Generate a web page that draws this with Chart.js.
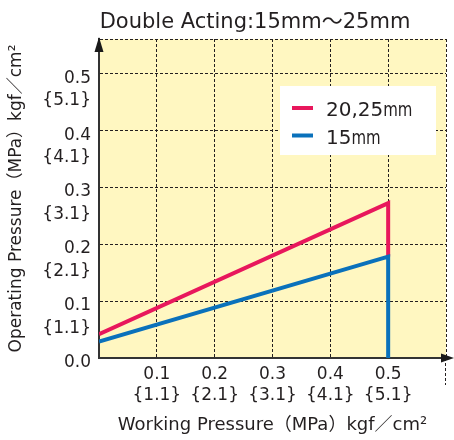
<!DOCTYPE html>
<html>
<head>
<meta charset="utf-8">
<script src="https://cdn.jsdelivr.net/npm/chart.js@4.4.1/dist/chart.umd.min.js"></script>
<style>
  html, body { margin: 0; padding: 0; background: #fff; }
  #wrap { width: 454px; height: 440px; }
</style>
</head>
<body>
<div id="wrap"><canvas id="pressure-chart" width="454" height="440"></canvas></div>
<script>
const chartTitle = 'Double Acting:15mm～25mm';
const xTitle = 'Working Pressure（MPa）kgf／cm²';
const yTitle = 'Operating Pressure（MPa）kgf／cm²';

// working pressure (MPa)
const workingPressure = [0, 0.5, 0.5];
// operating pressure (MPa) per bore size
const bore2025 = [0.042, 0.272, 0.178];
const bore15 = [0.029, 0.178, 0];
const seriesNames = ['20,25mm', '15mm'];
const seriesColors = ['#e8175c', '#0a71bb'];

const xTicks = [0, 0.1, 0.2, 0.3, 0.4, 0.5, 0.6];
const xTickMpa = ['', '0.1', '0.2', '0.3', '0.4', '0.5', ''];
const xTickKgf = ['', '{1.1}', '{2.1}', '{3.1}', '{4.1}', '{5.1}', ''];
const yTicks = [0, 0.1, 0.2, 0.3, 0.4, 0.5, 0.56];
const yTickMpa = ['0.0', '0.1', '0.2', '0.3', '0.4', '0.5', ''];
const yTickKgf = ['', '{1.1}', '{2.1}', '{3.1}', '{4.1}', '{5.1}', ''];

const fontFamily = '"DejaVu Sans", "Noto Sans CJK JP", sans-serif';
const inkColor = '#231f20';

function toPoints(ys) {
    return workingPressure.map((x, i) => ({ x: x, y: ys[i] }));
}

const backdrop = {
    id: 'backdrop',
    beforeDraw(chart) {
        const { ctx, chartArea: a } = chart;
        ctx.save();
        ctx.fillStyle = '#fff7c1';
        ctx.fillRect(a.left, a.top, a.right - a.left, a.bottom - a.top);
        ctx.restore();
    }
};

const decorations = {
    id: 'decorations',
    afterDraw(chart) {
        const { ctx, chartArea: a } = chart;
        ctx.save();

        // title
        ctx.fillStyle = inkColor;
        ctx.font = '21px ' + fontFamily;
        ctx.textAlign = 'center';
        ctx.textBaseline = 'alphabetic';
        ctx.fillText(chartTitle, 255, 28);

        // dashed tick below the last x grid line
        ctx.strokeStyle = inkColor;
        ctx.lineWidth = 1;
        ctx.setLineDash([3, 2]);
        ctx.beginPath();
        ctx.moveTo(a.right - 0.5, a.bottom);
        ctx.lineTo(a.right - 0.5, a.bottom + 27);
        ctx.stroke();
        ctx.setLineDash([]);

        // axis arrows
        ctx.strokeStyle = '#333';
        ctx.lineWidth = 2;
        ctx.beginPath();
        ctx.moveTo(a.right, a.bottom);
        ctx.lineTo(a.right - 4, a.bottom);
        ctx.stroke();
        ctx.fillStyle = '#1a1a1a';
        ctx.beginPath();
        ctx.moveTo(a.left, a.top - 2);
        ctx.lineTo(a.left - 4.5, a.top + 13);
        ctx.lineTo(a.left + 4.5, a.top + 13);
        ctx.closePath();
        ctx.fill();
        ctx.beginPath();
        ctx.moveTo(a.right + 8, a.bottom);
        ctx.lineTo(a.right - 5, a.bottom - 4.5);
        ctx.lineTo(a.right - 5, a.bottom + 4.5);
        ctx.closePath();
        ctx.fill();

        // legend box
        ctx.fillStyle = '#ffffff';
        ctx.fillRect(280, 86, 156, 69);
        seriesNames.forEach((name, i) => {
            const y = 108 + i * 27.5;
            ctx.strokeStyle = seriesColors[i];
            ctx.lineWidth = 4;
            ctx.beginPath();
            ctx.moveTo(292, y);
            ctx.lineTo(313, y);
            ctx.stroke();
            const num = name.replace('mm', '');
            ctx.fillStyle = inkColor;
            ctx.textAlign = 'left';
            ctx.font = '20px ' + fontFamily;
            ctx.fillText(num, 326, y + 8);
            const w = ctx.measureText(num).width;
            ctx.save();
            ctx.translate(326 + w, y + 8);
            ctx.scale(0.75, 1);
            ctx.fillText('mm', 0, 0);
            ctx.restore();
        });
        ctx.restore();
    }
};

const chart = new Chart(document.getElementById('pressure-chart'), {
    type: 'line',
    data: {
        datasets: [{
            label: seriesNames[0],
            data: toPoints(bore2025),
            borderColor: seriesColors[0],
            order: 1
        }, {
            label: seriesNames[1],
            data: toPoints(bore15),
            borderColor: seriesColors[1],
            order: 0
        }]
    },
    options: {
        responsive: false,
        animation: false,
        layout: { padding: { top: 39, right: 8, left: 0, bottom: 0 } },
        elements: {
            line: { borderWidth: 4, tension: 0, borderJoinStyle: 'miter', borderCapStyle: 'butt' },
            point: { radius: 0 }
        },
        plugins: {
            legend: { display: false },
            tooltip: { enabled: false }
        },
        scales: {
            x: {
                type: 'linear',
                min: 0,
                max: 0.6,
                afterBuildTicks: scale => { scale.ticks = xTicks.map(v => ({ value: v })); },
                afterFit: scale => { scale.height = 82; },
                grid: { color: inkColor, lineWidth: 1, drawTicks: false },
                border: { display: true, color: '#333', width: 2, dash: [3, 2] },
                ticks: {
                    padding: 6,
                    color: inkColor,
                    font: { family: fontFamily, size: 17, lineHeight: 1.25 },
                    maxRotation: 0,
                    autoSkip: false,
                    callback: (value, index) => xTickMpa[index] ? [xTickMpa[index], xTickKgf[index]] : ''
                },
                title: {
                    display: true,
                    text: xTitle,
                    color: inkColor,
                    font: { family: fontFamily, size: 18 },
                    padding: { top: 0, bottom: 4 }
                }
            },
            y: {
                type: 'linear',
                min: 0,
                max: 0.56,
                afterBuildTicks: scale => { scale.ticks = yTicks.map(v => ({ value: v })); },
                afterFit: scale => { scale.width = 99; },
                grid: { color: inkColor, lineWidth: 1, drawTicks: false },
                border: { display: true, color: '#333', width: 2, dash: [3, 2] },
                ticks: {
                    padding: 8,
                    labelOffset: 16,
                    color: inkColor,
                    font: { family: fontFamily, size: 17, lineHeight: 1.3 },
                    autoSkip: false,
                    callback: (value, index) => yTickMpa[index] ? [yTickMpa[index], yTickKgf[index]] : ''
                },
                title: {
                    display: true,
                    text: yTitle,
                    color: inkColor,
                    font: { family: fontFamily, size: 17 },
                    padding: { top: 6, bottom: 0 }
                }
            }
        }
    },
    plugins: [backdrop, decorations]
});
</script>
</body>
</html>
